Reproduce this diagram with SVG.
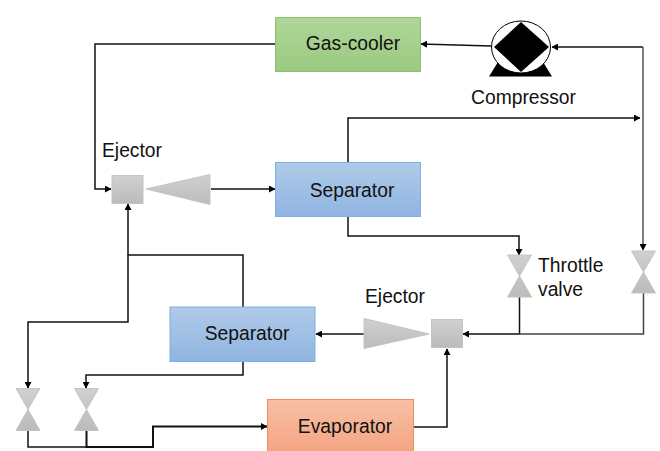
<svg xmlns="http://www.w3.org/2000/svg" width="660" height="451" viewBox="0 0 660 451">
<defs>
<linearGradient id="gr" x1="0" y1="0" x2="0" y2="1"><stop offset="0" stop-color="#aed69a"/><stop offset="1" stop-color="#9bca7f"/></linearGradient>
<linearGradient id="bl" x1="0" y1="0" x2="0" y2="1"><stop offset="0" stop-color="#b0cbe9"/><stop offset="1" stop-color="#8fb4e0"/></linearGradient>
<linearGradient id="or" x1="0" y1="0" x2="0" y2="1"><stop offset="0" stop-color="#f7c0a6"/><stop offset="1" stop-color="#f4a481"/></linearGradient>
<linearGradient id="gy" x1="0" y1="0" x2="0" y2="1"><stop offset="0" stop-color="#d0d0d0"/><stop offset="1" stop-color="#bbbbbb"/></linearGradient>
<marker id="a" markerWidth="7" markerHeight="7" refX="6" refY="3.5" orient="auto" markerUnits="userSpaceOnUse"><path d="M0 0L6.500 3.500L0 7Z" fill="#000"/></marker>
</defs>
<style>
text{font-family:"Liberation Sans",Arial,sans-serif;font-size:19.300px;fill:#111}
.c{fill:none;stroke:#111;stroke-width:1.500px}
.g{fill:url(#gy);stroke:#c4c4c4;stroke-width:1px}
</style>
<rect width="660" height="451" fill="#fff"/>
<g id="connectors">
<path class="c" d="M491 46L421 44" marker-end="url(#a)"/>
<path class="c" d="M275 44H95V189H111" marker-end="url(#a)"/>
<path class="c" d="M211 189H275" marker-end="url(#a)"/>
<path class="c" d="M348 162V118H640" marker-end="url(#a)"/>
<path class="c" d="M643 47H552" marker-end="url(#a)"/>
<path class="c" d="M643 47V250" marker-end="url(#a)" style="stroke:#555"/>
<path class="c" d="M348 217V236H519V255" marker-end="url(#a)"/>
<path class="c" d="M519.500 297V334H463" marker-end="url(#a)"/>
<path class="c" d="M643.500 293V334H519" style="stroke:#444"/>
<path class="c" d="M243 307V255H128V204" marker-end="url(#a)"/>
<path class="c" d="M128 255V322H28V388" marker-end="url(#a)"/>
<path class="c" d="M243 361V375H86V388" marker-end="url(#a)"/>
<path class="c" d="M28 431V447H153"/>
<path class="c" d="M86.500 431V447H153V426.500H267" marker-end="url(#a)" style="stroke-width:2px"/>
<path class="c" d="M414 427H447V349" marker-end="url(#a)"/>
<path class="c" d="M364 334H316" marker-end="url(#a)"/>
</g>
<g id="gas-cooler"><rect x="275.500" y="17.500" width="145" height="54" fill="url(#gr)" stroke="#8cc070"/><text x="353" y="50" text-anchor="middle">Gas-cooler</text></g>
<g id="compressor">
<path d="M498 62L489 76.500H552L543 62Z" fill="#000"/>
<ellipse cx="521" cy="47" rx="29.500" ry="26" fill="#fff" stroke="#000" stroke-width="1"/>
<path d="M521 22L549 47L521 72L494 47Z" fill="#000"/>
<text x="523.500" y="104" text-anchor="middle">Compressor</text>
</g>
<g id="ejector-top"><rect x="112" y="175.500" width="31" height="28" class="g"/><path d="M146 189L210 174.500V204.500Z" class="g"/><text x="102" y="157">Ejector</text></g>
<g id="separator-top"><rect x="275.500" y="162.500" width="145" height="54" fill="url(#bl)" stroke="#7fb0e2"/><text x="352" y="197" text-anchor="middle">Separator</text></g>
<g id="separator-bottom"><rect x="170" y="307" width="145" height="54.500" fill="url(#bl)" stroke="#7fb0e2"/><text x="247" y="340" text-anchor="middle">Separator</text></g>
<g id="ejector-bottom"><rect x="431.500" y="319.500" width="31" height="28" class="g"/><path d="M429 334L364 318.500V348.500Z" class="g"/><text x="365" y="303">Ejector</text></g>
<g id="evaporator"><rect x="267.500" y="399.500" width="146" height="54" fill="url(#or)" stroke="#ee8c5c"/><text x="345" y="433" text-anchor="middle">Evaporator</text></g>
<g id="valve-throttle"><path d="M507.500 255H531.500L519.500 276L531.500 297H507.500L519.500 276Z" class="g"/><text x="538" y="272">Throttle</text><text x="538" y="296">valve</text></g>
<g id="valve-right"><path d="M631.500 251H655.500L643.500 272L655.500 293H631.500L643.500 272Z" class="g"/></g>
<g id="valve-left-1"><path d="M16 388.500H40L28 409.500L40 430.500H16L28 409.500Z" class="g"/></g>
<g id="valve-left-2"><path d="M74.500 388.500H98.500L86.500 409.500L98.500 430.500H74.500L86.500 409.500Z" class="g"/></g>
</svg>
